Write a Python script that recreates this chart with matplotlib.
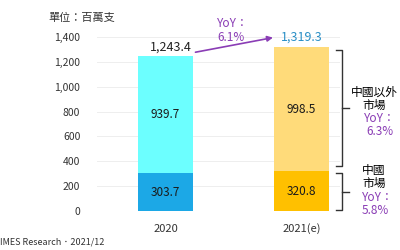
import numpy as np
import matplotlib
matplotlib.use("Agg")
import matplotlib.pyplot as plt

plt.rcParams['font.family'] = ['Noto Sans CJK TC', 'DejaVu Sans']

# data
years = ['2020', '2021(e)']
china = [303.7, 320.8]
non_china = [939.7, 998.5]
totals = [1243.4, 1319.3]
yticks = [0, 200, 400, 600, 800, 1000, 1200, 1400]

bottom_colors = ['#1CA8E6', '#FFC000']
top_colors = ['#6CFFFF', '#FFDB7A']
purple = '#8A3DB5'

fig = plt.figure(figsize=(4, 2.5), dpi=100)
ax = fig.add_axes([0.2425, 0.156, 0.6075, 0.696])

x = np.arange(len(years))
ax.bar(x, china, width=0.404, color=bottom_colors, zorder=2)
ax.bar(x, non_china, width=0.404, bottom=china, color=top_colors, zorder=2)

# value labels inside bars
for i in range(len(years)):
    ax.text(x[i], china[i] / 2, f'{china[i]:.1f}', ha='center', va='center', fontsize=8.5, color='#1a1a1a')
    ax.text(x[i], china[i] + non_china[i] / 2, f'{non_china[i]:.1f}', ha='center', va='center', fontsize=8.5, color='#1a1a1a')

# totals
ax.text(x[0] + 0.04, totals[0] + 25, f'{totals[0]:,.1f}', ha='center', va='bottom', fontsize=9, color='#222222')
ax.text(x[1], totals[1] + 25, f'{totals[1]:,.1f}', ha='center', va='bottom', fontsize=9, color='#2A8FC6')

# growth arrow
ax.annotate('', xy=(x[1] - 0.19, totals[1] + 80), xytext=(x[0] + 0.2, totals[0] + 30),
            arrowprops=dict(arrowstyle='-|>', color=purple, lw=1.2, mutation_scale=8),
            annotation_clip=False)
ax.text(0.38, 1345, 'YoY：\n6.1%', ha='left', va='bottom', fontsize=8.5, color=purple,
        linespacing=1.05, clip_on=False)

# axes styling
ax.set_xlim(-0.504, 1.283)
ax.set_ylim(0, 1400)
ax.set_yticks(yticks)
ax.set_yticklabels([f'{v:,}' for v in yticks], fontsize=7.5, color='#333333')
ax.set_xticks(x)
ax.set_xticklabels(years, fontsize=8, color='#333333')
ax.tick_params(length=0, pad=12)
ax.tick_params(axis='x', pad=9)
ax.grid(axis='y', color='#EEEEEE', lw=0.7, zorder=0)
for s in ax.spines.values():
    s.set_visible(False)

# brackets on the right
def bracket(y0, y1, xb=1.3):
    ax.plot([xb - 0.05, xb, xb, xb - 0.05], [y1, y1, y0, y0], color='#333333', lw=1,
            clip_on=False)
    ym = (y0 + y1) / 2
    ax.plot([xb, xb + 0.05], [ym, ym], color='#333333', lw=1, clip_on=False)

bracket(china[1] + 40, totals[1] - 20)
bracket(5, china[1] - 15)

fig.text(0.935, 0.604, '中國以外\n市場', ha='center', va='center', fontsize=8.5, linespacing=1.05)
fig.text(0.95, 0.5, 'YoY：\n6.3%', ha='center', va='center', fontsize=8.5, color=purple, linespacing=1.05)
fig.text(0.905, 0.292, '中國\n市場', ha='left', va='center', fontsize=8.5, linespacing=1.05)
fig.text(0.905, 0.184, 'YoY：\n5.8%', ha='left', va='center', fontsize=8.5, color=purple, linespacing=1.05)

fig.text(0.12, 0.928, '單位：百萬支', ha='left', va='center', fontsize=8, color='#333333')
fig.text(0.0, 0.03, 'IMES Research．2021/12', ha='left', va='center', fontsize=6.5, color='#333333')

fig.savefig('out.png', dpi=100)
